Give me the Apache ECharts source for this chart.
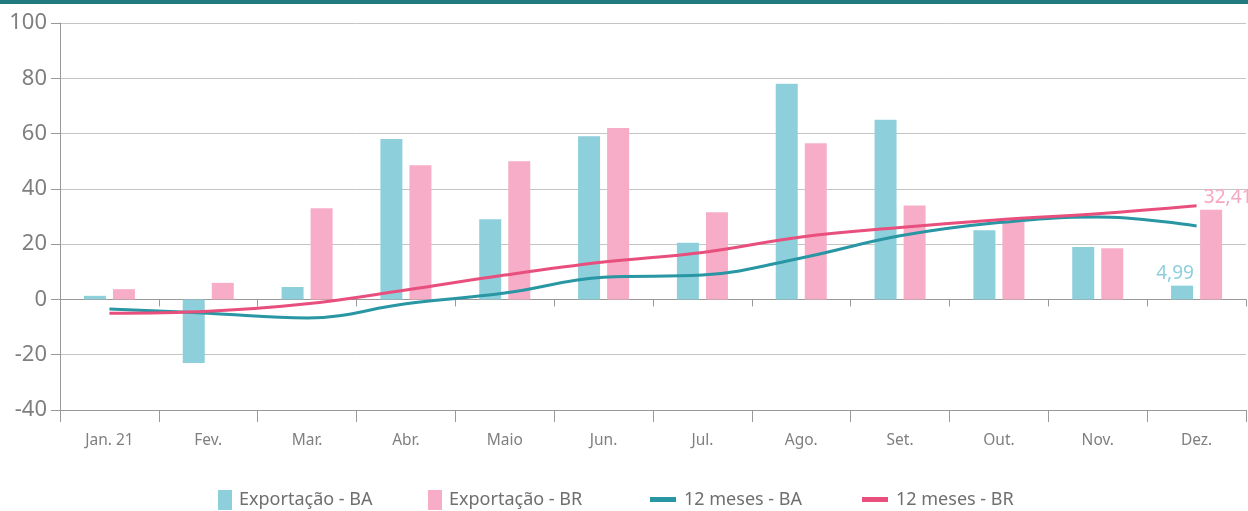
<!DOCTYPE html>
<html>
<head>
<meta charset="utf-8">
<script src="https://cdn.jsdelivr.net/npm/echarts@6/dist/echarts.min.js"></script>
<style>
  html, body { margin: 0; padding: 0; background: #fff; }
  #plot { width: 1248px; height: 511px; }
</style>
</head>
<body>
<div id="plot"></div>
<script>
"use strict";

// Months of 2021
var months = ['Jan. 21', 'Fev.', 'Mar.', 'Abr.', 'Maio', 'Jun.', 'Jul.', 'Ago.', 'Set.', 'Out.', 'Nov.', 'Dez.'];

// Monthly export variation (%)
var exportBA = [1.3, -23, 4.5, 58, 29, 59, 20.5, 78, 65, 25, 19, 4.99];
var exportBR = [3.7, 6, 33, 48.5, 50, 62, 31.5, 56.5, 34, 28, 18.5, 32.41];

// Accumulated 12 months (%)
var acumBA = [-3.5, -5, -6.7, -1.6, 2.3, 8, 8.8, 15, 23, 27.8, 29.8, 26.6];
var acumBR = [-5, -4.3, -1.6, 3.4, 8.8, 13.5, 17, 22.6, 26, 28.8, 31, 33.9];

var colBA = '#8ecfdc';
var colBR = '#f7adc7';
var lineBA = '#2896a3';
var lineBR = '#e84f7c';
var grayText = '#7f7f7f';
var font = 'Noto Sans';

// Only the last bar of each series gets a label.
function lastLabel(values, color, offset) {
  return values.map(function (v, i) {
    if (i !== values.length - 1) return v;
    return {
      value: v,
      label: {
        show: true, position: 'top', distance: 3, offset: offset,
        color: color, fontFamily: font, fontSize: 19,
        formatter: function (p) { return String(p.value).replace('.', ','); }
      }
    };
  });
}

function legendAt(x, y, name, w, h, gap) {
  return {
    left: x, top: y, padding: 0, data: [name], icon: 'rect',
    itemWidth: w, itemHeight: h,
    textStyle: { color: '#6f6f6f', fontFamily: font, fontSize: 18, padding: [0, 0, 0, gap] }
  };
}

var chart = echarts.init(document.getElementById('plot'));
chart.setOption({
  animation: false,
  backgroundColor: '#fff',
  graphic: [{
    type: 'rect', left: 0, top: 0,
    shape: { width: 1248, height: 4 },
    style: { fill: '#217a80' }
  }],
  grid: { left: 60, right: 2, top: 23, bottom: 101 },
  legend: [
    legendAt(218, 490, 'Exportação - BA', 14, 20, 2),
    legendAt(428, 490, 'Exportação - BR', 14, 20, 2),
    legendAt(650, 490.5, '12 meses - BA', 26, 5, 3),
    legendAt(862, 490.5, '12 meses - BR', 26, 5, 3)
  ],
  xAxis: [{
    type: 'category', data: months, position: 'bottom',
    axisLine: { onZero: false, lineStyle: { color: '#999', width: 1 } },
    axisTick: { show: true, length: 12, lineStyle: { color: '#999' } },
    axisLabel: { color: grayText, fontFamily: font, fontSize: 15.5, margin: 23 },
    splitLine: { show: false }
  }, {
    type: 'category', data: months, position: 'top',
    axisLine: { onZero: true, lineStyle: { color: '#999', width: 1 } },
    axisTick: { show: true, inside: true, length: 7, lineStyle: { color: '#999' } },
    axisLabel: { show: false },
    splitLine: { show: false }
  }],
  yAxis: {
    type: 'value', min: -40, max: 100, interval: 20,
    axisLine: { show: true, lineStyle: { color: '#999' } },
    axisTick: { show: true, length: 9, lineStyle: { color: '#999' } },
    axisLabel: { color: grayText, fontFamily: font, fontSize: 22, margin: 13 },
    splitLine: { lineStyle: { color: '#c4c4c4' } }
  },
  series: [{
    name: 'Exportação - BA', type: 'bar', data: lastLabel(exportBA, '#8ecfdc', [-7, 0]),
    barWidth: 22, barGap: '32%', itemStyle: { color: colBA }
  }, {
    name: 'Exportação - BR', type: 'bar', data: lastLabel(exportBR, '#f7a6c2', [17, 0]),
    barWidth: 22, itemStyle: { color: colBR }
  }, {
    name: '12 meses - BA', type: 'line', data: acumBA, smooth: 0.4,
    showSymbol: false, z: 5,
    lineStyle: { color: lineBA, width: 3 }, itemStyle: { color: lineBA }
  }, {
    name: '12 meses - BR', type: 'line', data: acumBR, smooth: 0.4,
    showSymbol: false, z: 5,
    lineStyle: { color: lineBR, width: 3 }, itemStyle: { color: lineBR }
  }]
});
</script>
</body>
</html>
